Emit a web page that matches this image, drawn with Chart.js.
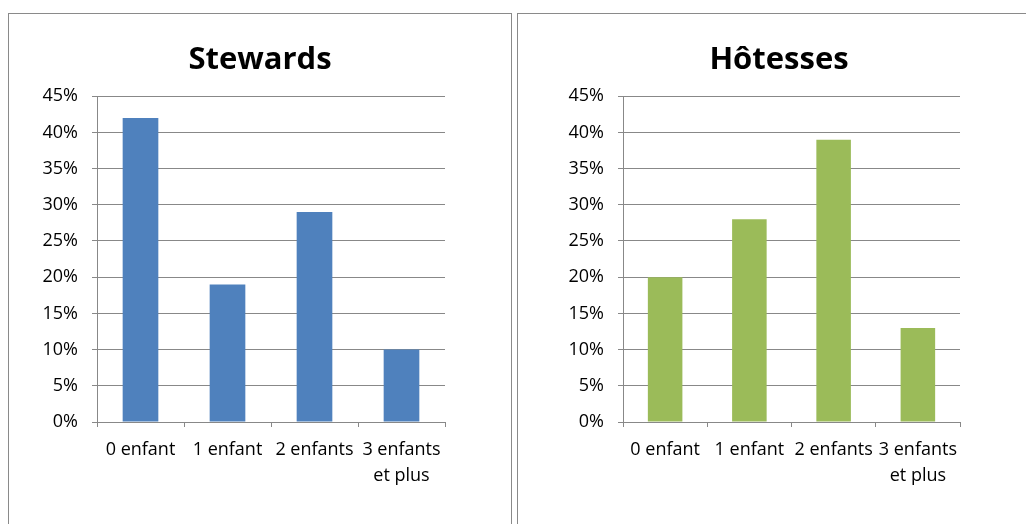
<!DOCTYPE html>
<html>
<head>
<meta charset="utf-8">
<script src="https://cdn.jsdelivr.net/npm/chart.js@4"></script>
<style>
  body { margin: 0; background: #fff; width: 1026px; height: 524px; overflow: hidden; position: relative; }
  .panel { position: absolute; top: 13px; height: 540px; border: 1px solid #8a8a8a; box-sizing: border-box; background: #fff; }
  .panel canvas { position: absolute; left: 0; top: 0; }
</style>
</head>
<body>
<div class="panel" style="left:8px; width:504px;"><canvas id="stewards" width="502" height="520"></canvas></div>
<div class="panel" style="left:517px; width:524px;"><canvas id="hotesses" width="522" height="520"></canvas></div>
<script>
// données (en %)
const categories = ['0 enfant', '1 enfant', '2 enfants', ['3 enfants', 'et plus']];
const stewards = [42, 19, 29, 10];
const hotesses = [20, 28, 39, 13];
const yTicks = [0, 5, 10, 15, 20, 25, 30, 35, 40, 45];

const gris = '#888888';
const police = "'Open Sans', sans-serif";

function makeChart(id, titre, values, couleur, leftW, rightW) {
  new Chart(document.getElementById(id), {
    type: 'bar',
    data: {
      labels: categories,
      datasets: [{
        data: values,
        backgroundColor: couleur,
        borderWidth: 0,
        barPercentage: 0.41,
        categoryPercentage: 1
      }]
    },
    options: {
      responsive: false,
      animation: false,
      layout: { padding: { left: 0, right: 0, top: 0, bottom: 0 } },
      scales: {
        y: {
          min: yTicks[0],
          max: yTicks[yTicks.length - 1],
          afterBuildTicks: s => { s.ticks = yTicks.map(v => ({ value: v })); },
          afterFit: s => { s.width = leftW; },
          grid: { color: gris, lineWidth: 1, tickLength: 5 },
          border: { color: gris, width: 1 },
          ticks: {
            padding: 14,
            color: '#000',
            font: { family: police, size: 18 },
            callback: v => v + '%'
          }
        },
        yR: {
          position: 'right',
          afterFit: s => { s.width = rightW; },
          grid: { display: false },
          border: { display: false },
          ticks: { display: false }
        },
        x: {
          afterFit: s => { s.height = 112; },
          grid: { drawOnChartArea: false, color: gris, tickLength: 5, offset: true },
          border: { color: gris, width: 1 },
          ticks: {
            padding: 10,
            autoSkip: false,
            maxRotation: 0,
            color: '#000',
            font: { family: police, size: 18, lineHeight: 1.45 }
          }
        }
      },
      plugins: {
        legend: { display: false },
        tooltip: { enabled: false },
        title: {
          display: true,
          text: titre,
          color: '#000',
          font: { family: police, size: 31, weight: 'bold', lineHeight: 1.2 },
          padding: { top: 28, bottom: 17 }
        }
      }
    }
  });
}

makeChart('stewards', 'Stewards', stewards, '#4F81BD', 88, 66);
makeChart('hotesses', 'Hôtesses', hotesses, '#9BBB59', 105, 80);
</script>
</body>
</html>
